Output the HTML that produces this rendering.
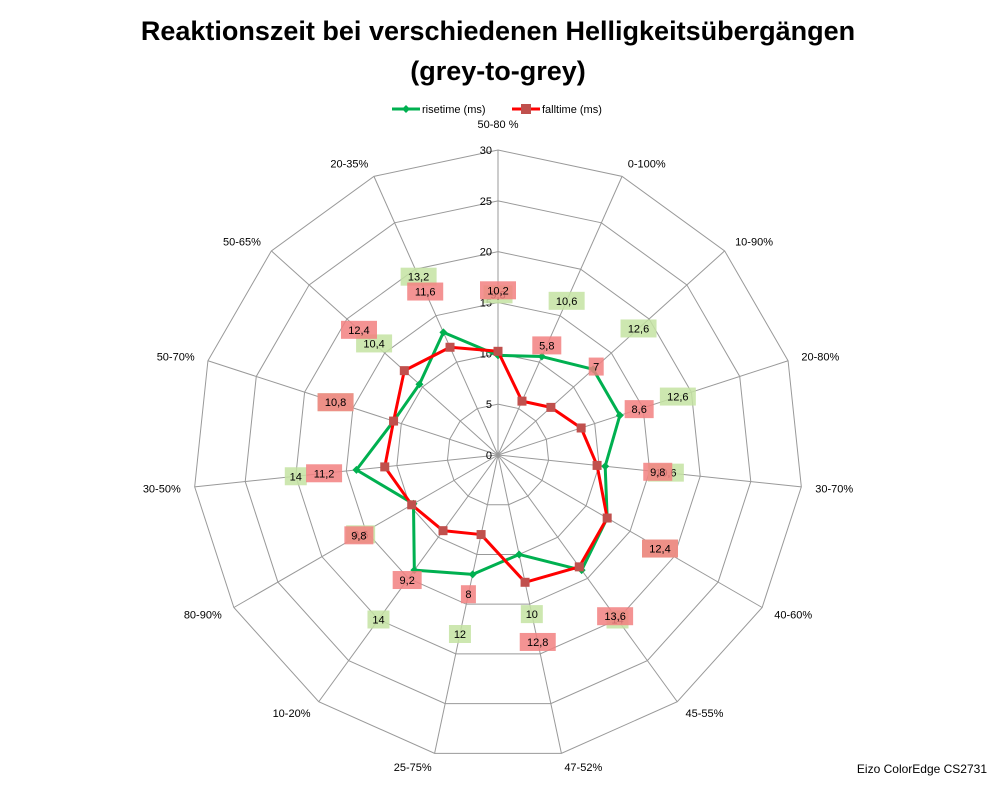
<!DOCTYPE html>
<html><head><meta charset="utf-8"><style>
body{margin:0;background:#fff;}
svg{display:block;font-family:"Liberation Sans",sans-serif;}
</style></head><body>
<svg width="998" height="786" viewBox="0 0 998 786" xmlns="http://www.w3.org/2000/svg">
<text x="498" y="40" text-anchor="middle" font-size="27" font-weight="bold">Reaktionszeit bei verschiedenen Helligkeitsübergängen</text>
<text x="498" y="80" text-anchor="middle" font-size="27" font-weight="bold">(grey-to-grey)</text>
<g font-size="11">
<g><line x1="392" y1="109" x2="420" y2="109" stroke="#00b050" stroke-width="3"/><path d="M406 105 L410 109 L406 113 L402 109Z" fill="#00b050"/><text x="422" y="113">risetime (ms)</text></g>
<g><line x1="512" y1="109" x2="540" y2="109" stroke="#f00" stroke-width="3"/><rect x="521" y="104" width="10" height="10" fill="#c0504d"/><text x="542" y="113">falltime (ms)</text></g>
</g>
<g id="grid"></g><g id="marks"></g>
<text x="987" y="773" text-anchor="end" font-size="12">Eizo ColorEdge CS2731</text>
</svg>
<script>
const categories=["50-80 %","0-100%","10-90%","20-80%","30-70%","40-60%","45-55%","47-52%","25-75%","10-20%","80-90%","30-50%","50-70%","50-65%","20-35%"];
const riseValues=[9.8,10.6,12.6,12.6,10.6,12.4,14,10,12,14,9.6,14,10.8,10.4,13.2];
const fallValues=[10.2,5.8,7,8.6,9.8,12.4,13.6,12.8,8,9.2,9.8,11.2,10.8,12.4,11.6];
const tickLabels=["0","5","10","15","20","25","30"];
const tickValues=[0,5,10,15,20,25,30];
const NS="http://www.w3.org/2000/svg",cx=498,cy=455,R=305,maxV=30;
const n=categories.length;
function ang(i){return -Math.PI/2+i*2*Math.PI/n;}
function pt(i,v){const a=ang(i),r=v/maxV*R;return [cx+r*Math.cos(a),cy+r*Math.sin(a)];}
function mk(tag,attrs,parent){const e=document.createElementNS(NS,tag);for(const k in attrs)e.setAttribute(k,attrs[k]);parent.appendChild(e);return e;}
const grid=document.getElementById('grid'),marks=document.getElementById('marks');
tickValues.forEach((t,k)=>{if(t===0)return;const p=categories.map((c,i)=>pt(i,t).join(',')).join(' ');
const g=mk('polygon',{points:p,fill:'none',stroke:'#999','stroke-width':1},grid);

});
categories.forEach((c,i)=>{const [x,y]=pt(i,maxV);const l=mk('line',{x1:cx,y1:cy,x2:x,y2:y,stroke:'#999','stroke-width':1},grid);


const a=ang(i),cs=Math.cos(a),lr=R+14;let lx=cx+lr*cs,ly=cy+lr*Math.sin(a)+4;
let anchor=Math.abs(cs)<0.2?'middle':(cs>0?'start':'end');
if(i===0)ly=cy-R-22;
const t=mk('text',{x:lx,y:ly,'text-anchor':anchor,'font-size':11},grid);t.textContent=c;

});
tickValues.forEach((t,k)=>{const [x,y]=pt(0,t);const e=mk('text',{x:x-6,y:y+4,'text-anchor':'end','font-size':11},grid);e.textContent=tickLabels[k];

});
function series(vals,color,name,fillLbl,square){
const pl=mk('polygon',{points:vals.map((v,i)=>pt(i,v).join(',')).join(' '),fill:'none',stroke:color,'stroke-width':3,'stroke-linejoin':'round'},marks);


vals.forEach((v,i)=>{const [x,y]=pt(i,v);let m;
if(square)m=mk('rect',{x:x-4.5,y:y-4.5,width:9,height:9,fill:'#c0504d'},marks);
else m=mk('path',{d:`M${x} ${y-4}L${x+4} ${y}L${x} ${y+4}L${x-4} ${y}Z`,fill:'#00b050'},marks);

});}
function labels(vals,fillLbl,name){vals.forEach((v,i)=>{const [x,y]=pt(i,v+6);const s=String(v).replace('.',',');const w=s.length*7+8;
const r=mk('rect',{x:x-w/2,y:y-9,width:w,height:18,fill:fillLbl,opacity:0.85},marks);


const t=mk('text',{x:x,y:y+4,'text-anchor':'middle','font-size':11},marks);t.textContent=s;

});}
series(riseValues,'#00b050','rise',null,false);
series(fallValues,'#f00','fall',null,true);
labels(riseValues,'#c4e3a2','rise');
labels(fallValues,'#f28080','fall');
</script>
</body></html>
